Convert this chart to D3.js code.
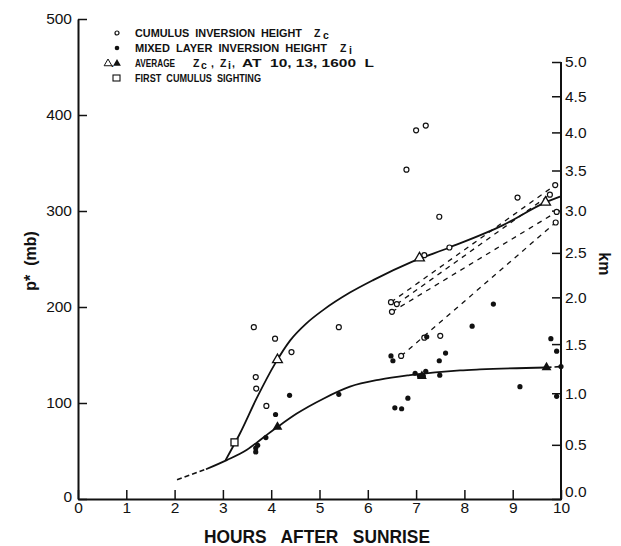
<!DOCTYPE html>
<html>
<head>
<meta charset="utf-8">
<script src="https://cdn.jsdelivr.net/npm/d3@7"></script>
<style>
  body { margin: 0; background: #fff; }
  svg { display: block; }
  .tick text { font-family: "Liberation Sans", Arial, sans-serif; font-size: 15.5px; fill: #111; }
  .legend text { font-family: "Liberation Sans", Arial, sans-serif; font-size: 10.5px; font-weight: bold; fill: #111; }
  .title { font-family: "Liberation Sans", Arial, sans-serif; font-weight: bold; fill: #111; }
</style>
</head>
<body>
<svg id="chart" width="621" height="546"></svg>
<script>
// hours after sunrise, p* (mb)
const cumulusZc = [
  [3.64, 179], [4.08, 167], [4.42, 153], [3.68, 127], [3.69, 115], [3.90, 97],
  [5.40, 179], [6.48, 205], [6.60, 203], [6.50, 195], [6.69, 149], [6.80, 343],
  [7.00, 384], [7.20, 389], [7.17, 168], [7.50, 170], [7.48, 294], [7.17, 254],
  [7.69, 262], [9.10, 314], [9.88, 327], [9.77, 317], [9.91, 299], [9.89, 288]
];
const mixedZi = [
  [3.68, 49], [3.68, 53], [3.72, 56], [3.89, 64], [4.09, 88], [4.38, 108],
  [5.40, 109], [6.48, 149], [6.52, 144], [6.56, 95], [6.70, 94], [6.83, 105],
  [6.98, 131], [7.07, 128], [7.15, 128], [7.20, 133], [7.22, 169], [7.48, 144],
  [7.49, 129], [7.61, 152], [8.16, 180], [8.60, 203], [9.15, 117], [9.79, 167],
  [9.91, 154], [10.0, 138], [9.91, 107]
];
const avgZc = [[4.13, 145], [7.07, 251], [9.68, 309]];
const avgZi = [[4.13, 75], [7.12, 128], [9.70, 137]];
const firstCumulus = [[3.24, 59]];

// fitted curves
const curveZc = [
  [3.05, 40], [3.35, 68], [3.70, 105], [4.08, 141], [4.39, 165], [4.73, 183],
  [5.08, 197], [5.63, 215], [6.11, 228], [6.91, 247], [7.69, 262], [8.79, 285],
  [9.68, 309], [9.98, 315]
];
const curveZiDashStart = [[2.05, 20], [2.65, 31]];
const curveZi = [
  [2.65, 31], [3.08, 40.5], [3.49, 51], [3.90, 66.5], [4.13, 75], [4.53, 89],
  [5.08, 104.5], [5.63, 117], [6.25, 124.4], [6.87, 129], [7.91, 134],
  [8.32, 135], [9.70, 137]
];
const curveZiDashEnd = [[9.70, 137], [10.0, 138]];

// dashed links between cumulus heights
const dashedLinks = [
  [[6.48, 205], [9.88, 327]],
  [[6.60, 203], [9.77, 317]],
  [[6.50, 195], [9.91, 299]],
  [[6.69, 149], [9.89, 288]]
];

const hourTicks = [0, 1, 2, 3, 4, 5, 6, 7, 8, 9, 10];
const pTicks = [0, 100, 200, 300, 400, 500];
const kmTicks = [0, 0.5, 1.0, 1.5, 2.0, 2.5, 3.0, 3.5, 4.0, 4.5, 5.0];

// legend pieces: [x, text, textLength or null, subscript?]
const legendRows = [
  { sym: 'open', parts: [[135, 'CUMULUS  INVERSION  HEIGHT', 167], [314, 'Z'], [323, 'c', null, true]] },
  { sym: 'dot', parts: [[135, 'MIXED  LAYER  INVERSION  HEIGHT', 192], [340, 'Z'], [349, 'i', null, true]] },
  { sym: 'tri', parts: [[135, 'AVERAGE', 40], [193, 'Z'], [201, 'c', null, true], [211, ','], [220, 'Z'], [228, 'i', null, true],
                        [232, ','], [242, 'AT  10, 13, 1600  L', 132]] },
  { sym: 'square', parts: [[135, 'FIRST  CUMULUS  SIGHTING', 126]] }
];

// standard atmosphere: km above surface -> pressure depth p* (mb)
const P0 = 975;
function kmToP(z) {
  return P0 * (1 - Math.pow(1 - 2.2558e-5 * z * 1000, 5.2559));
}

const svg = d3.select('#chart');
const x = d3.scaleLinear().domain([0, 10]).range([78, 561]);
const y = d3.scaleLinear().domain([0, 500]).range([499, 19]);

const line = d3.line().x(d => x(d[0])).y(d => y(d[1]));
const smooth = d3.line().x(d => x(d[0])).y(d => y(d[1])).curve(d3.curveMonotoneX);

// axes
const left = svg.append('g')
  .attr('transform', `translate(${x(0)},0)`)
  .call(d3.axisLeft(y).tickValues(pTicks).tickSize(-9).tickSizeOuter(0).tickPadding(6));

const bottom = svg.append('g')
  .attr('transform', `translate(0,${y(0)})`)
  .call(d3.axisBottom(x).tickValues(hourTicks).tickSize(-9).tickSizeOuter(0).tickPadding(3));

const right = svg.append('g')
  .attr('transform', `translate(${x(10)},0)`)
  .call(d3.axisRight(y)
    .tickValues(kmTicks.map(kmToP))
    .tickFormat((d, i) => kmTicks[i].toFixed(1))
    .tickSize(-9).tickSizeOuter(0).tickPadding(4));
right.select('.domain').remove();
right.append('line')
  .attr('y1', y(0) + 1).attr('y2', y(kmToP(5.0)))
  .attr('stroke', '#111').attr('stroke-width', 2);
// the 0.0 label sits above the corner
right.selectAll('.tick text').filter((d, i) => i === 0).attr('dy', '-0.15em');

[left, bottom, right].forEach(g => {
  g.selectAll('.domain').attr('stroke', '#111').attr('stroke-width', 2);
  g.selectAll('.tick line').attr('stroke', '#111').attr('stroke-width', 1.5);
});
left.selectAll('.tick text').filter((d, i) => i === 0).attr('dy', '0.15em');

// curves
const curves = svg.append('g').attr('fill', 'none').attr('stroke', '#111');
curves.append('path').attr('d', smooth(curveZc)).attr('stroke-width', 1.8);
curves.append('path').attr('d', smooth(curveZi)).attr('stroke-width', 1.8);
curves.append('path').attr('d', line(curveZiDashStart)).attr('stroke-width', 1.6).attr('stroke-dasharray', '5,3');
curves.append('path').attr('d', line(curveZiDashEnd)).attr('stroke-width', 1.6).attr('stroke-dasharray', '5,3');
curves.selectAll('.link')
  .data(dashedLinks)
  .enter().append('path')
  .attr('class', 'link')
  .attr('d', d => line(d))
  .attr('stroke-width', 1.3)
  .attr('stroke-dasharray', '5,5');

// markers
const marks = svg.append('g');
marks.selectAll('.zc')
  .data(cumulusZc)
  .enter().append('circle')
  .attr('cx', d => x(d[0])).attr('cy', d => y(d[1])).attr('r', 2.5)
  .attr('fill', '#fff').attr('stroke', '#111').attr('stroke-width', 1.2);

marks.selectAll('.zi')
  .data(mixedZi)
  .enter().append('circle')
  .attr('cx', d => x(d[0])).attr('cy', d => y(d[1])).attr('r', 2.6)
  .attr('fill', '#111');

const tri = d3.symbol().type(d3.symbolTriangle).size(42);
marks.selectAll('.azc')
  .data(avgZc)
  .enter().append('path')
  .attr('d', tri)
  .attr('transform', d => `translate(${x(d[0])},${y(d[1])})`)
  .attr('fill', '#fff').attr('stroke', '#111').attr('stroke-width', 1.3);

marks.selectAll('.azi')
  .data(avgZi)
  .enter().append('path')
  .attr('d', tri)
  .attr('transform', d => `translate(${x(d[0])},${y(d[1])})`)
  .attr('fill', '#111');

marks.selectAll('.sq')
  .data(firstCumulus)
  .enter().append('rect')
  .attr('x', d => x(d[0]) - 3.5).attr('y', d => y(d[1]) - 3.5)
  .attr('width', 7).attr('height', 7)
  .attr('fill', '#fff').attr('stroke', '#111').attr('stroke-width', 1.3);

// legend
const legend = svg.append('g').attr('class', 'legend');
legendRows.forEach((row, i) => {
  const ly = 33 + i * 15;
  const g = legend.append('g').attr('transform', `translate(0,${ly})`);
  if (row.sym === 'open') {
    g.append('circle').attr('cx', 117).attr('cy', 0).attr('r', 2).attr('fill', '#fff').attr('stroke', '#111').attr('stroke-width', 1.2);
  } else if (row.sym === 'dot') {
    g.append('circle').attr('cx', 117).attr('cy', 0).attr('r', 2.3).attr('fill', '#111');
  } else if (row.sym === 'tri') {
    const small = d3.symbol().type(d3.symbolTriangle).size(26);
    g.append('path').attr('d', small).attr('transform', 'translate(108,0.5)').attr('fill', '#fff').attr('stroke', '#111').attr('stroke-width', 1);
    g.append('text').attr('x', 111).attr('y', 3.5).text('.');
    g.append('path').attr('d', small).attr('transform', 'translate(117,0.5)').attr('fill', '#111');
  } else {
    g.append('rect').attr('x', 113).attr('y', -3).attr('width', 7).attr('height', 6).attr('fill', '#fff').attr('stroke', '#111').attr('stroke-width', 1.1);
  }
  row.parts.forEach(([px, s, len, sub]) => {
    const t = g.append('text')
      .attr('x', px)
      .attr('y', sub ? 5.5 : 3.8)
      .attr('xml:space', 'preserve')
      .attr('font-size', sub ? '7.5px' : null)
      .text(s);
    if (len) t.attr('textLength', len).attr('lengthAdjust', 'spacingAndGlyphs');
  });
});

// titles
svg.append('text').attr('class', 'title')
  .attr('x', 204).attr('y', 543)
  .attr('font-size', 18)
  .attr('xml:space', 'preserve')
  .attr('textLength', 226).attr('lengthAdjust', 'spacingAndGlyphs')
  .text('HOURS   AFTER   SUNRISE');

svg.append('text').attr('class', 'title')
  .attr('transform', `translate(36,${y(248)}) rotate(-90)`)
  .attr('text-anchor', 'middle')
  .attr('font-size', 16)
  .attr('xml:space', 'preserve')
  .text('p*  (mb)');

svg.append('text').attr('class', 'title')
  .attr('transform', `translate(599,${y(245)}) rotate(90)`)
  .attr('text-anchor', 'middle')
  .attr('font-size', 16)
  .text('km');
</script>
</body>
</html>
